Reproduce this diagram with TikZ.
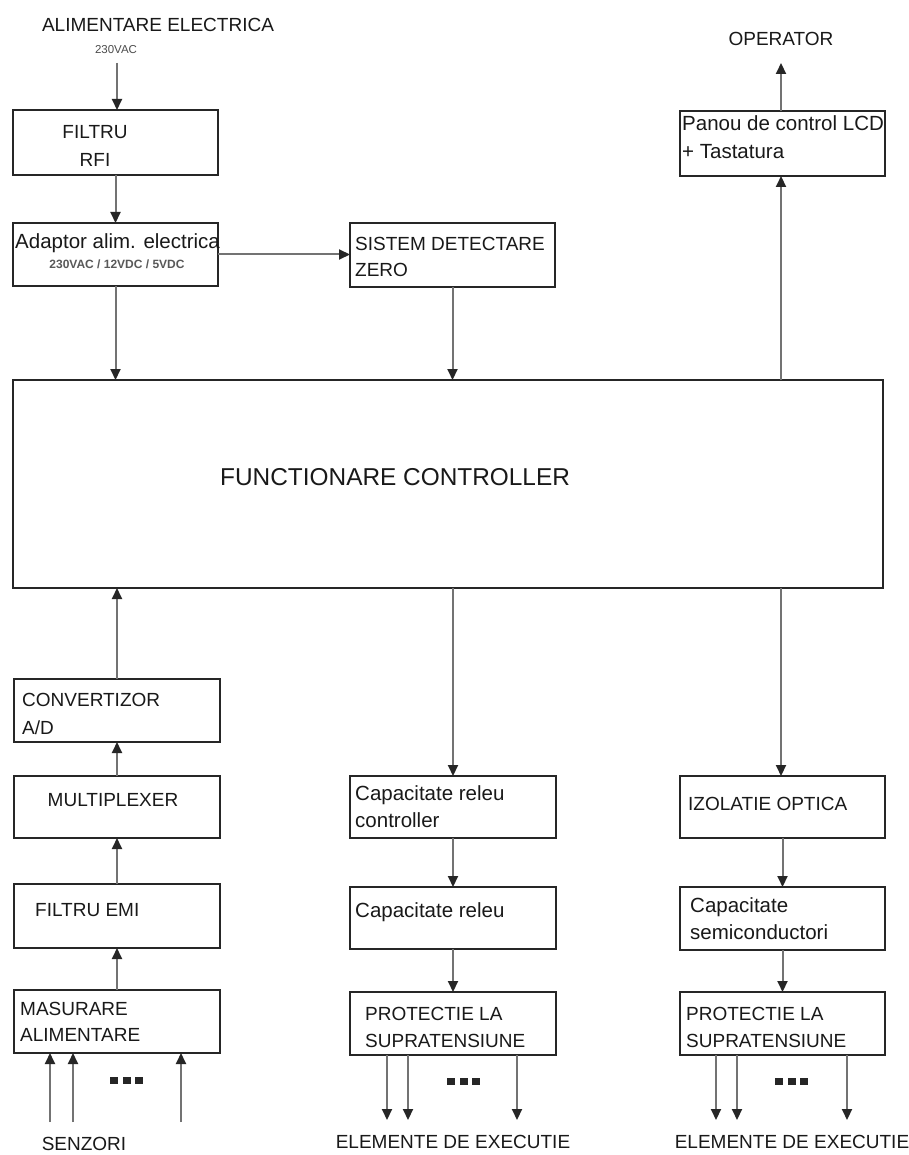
\documentclass[tikz,border=0pt]{standalone}
\usepackage{fontspec}
\setmainfont{Liberation Sans}
\usetikzlibrary{arrows.meta,fit}
\begin{document}
\begin{tikzpicture}[x=1pt,y=-1pt,
  box/.style={draw=black!85, line width=1.8pt, inner sep=0pt, outer sep=0pt},
  conn/.style={draw=black!55, line width=2pt, -{Triangle[length=11pt,width=10pt,color=black!85]}},
  lab/.style={inner sep=0pt, font=\fontsize{19}{27}\selectfont, text=black!90},
  labl/.style={inner sep=0pt, font=\fontsize{20.5}{27}\selectfont, text=black!90},
  dot/.style={fill=black!85}
]
\useasboundingbox[fill=white] (0,0) rectangle (909,1155);

% boxes
\node[box, fit={(13,110) (218,175)}] (filtru) {};
\node[box, fit={(13,223) (218,286)}] (adaptor) {};
\node[box, fit={(350,223) (555,287)}] (sistem) {};
\node[box, fit={(13,380) (883,588)}] (main) {};
\node[box, fit={(680,111) (885,176)}] (panou) {};
\node[box, fit={(14,679) (220,742)}] (conv) {};
\node[box, fit={(14,776) (220,838)}] (mux) {};
\node[box, fit={(14,884) (220,948)}] (emi) {};
\node[box, fit={(14,990) (220,1053)}] (mas) {};
\node[box, fit={(350,776) (556,838)}] (caprc) {};
\node[box, fit={(350,887) (556,949)}] (capr) {};
\node[box, fit={(350,992) (556,1055)}] (protA) {};
\node[box, fit={(680,776) (885,838)}] (izol) {};
\node[box, fit={(680,887) (885,950)}] (capsc) {};
\node[box, fit={(680,992) (885,1055)}] (protB) {};

% texts
\node[lab, anchor=north] (talim) at (158,18) {ALIMENTARE ELECTRICA};
\node[inner sep=0pt, anchor=north, font=\fontsize{11.5}{13}\selectfont, text=black!70] (t230) at (116,45) {230VAC};
\node[lab, anchor=north, align=center, font=\fontsize{19}{28}\selectfont] (tfiltru) at (95,125) {FILTRU\\RFI};
\node[labl, anchor=north west] (tadapt) at (15,233) {Adaptor alim. electrica};
\node[inner sep=0pt, anchor=north, font=\bfseries\fontsize{12}{14}\selectfont, text=black!65] (tvolt) at (117,260) {230VAC / 12VDC / 5VDC};
\node[lab, anchor=north west, align=left, font=\fontsize{19}{26}\selectfont] (tsistem) at (355,237) {SISTEM DETECTARE\\ZERO};
\node[inner sep=0pt, anchor=north west, font=\fontsize{24.4}{30}\selectfont, text=black!90] (tmain) at (220,468) {FUNCTIONARE CONTROLLER};
\node[lab, anchor=north] (toper) at (781,32) {OPERATOR};
\node[labl, anchor=north west, align=left, font=\fontsize{20.5}{28.5}\selectfont] (tpanou) at (682,115) {Panou de control LCD\\+ Tastatura};
\node[lab, anchor=north west, align=left, font=\fontsize{19}{28}\selectfont] (tconv) at (22,693) {CONVERTIZOR\\A/D};
\node[lab, anchor=north] (tmux) at (113,793) {MULTIPLEXER};
\node[lab, anchor=north west] (temi) at (35,903) {FILTRU EMI};
\node[lab, anchor=north west, align=left, font=\fontsize{19}{26}\selectfont] (tmas) at (20,1002) {MASURARE\\ALIMENTARE};
\node[lab, anchor=north] (tsenz) at (84,1137) {SENZORI};
\node[labl, anchor=north west, align=left] (tcaprc) at (355,785) {Capacitate releu\\controller};
\node[labl, anchor=north west] (tcapr) at (355,902) {Capacitate releu};
\node[lab, anchor=north west, align=left] (tprotA) at (365,1007) {PROTECTIE LA\\SUPRATENSIUNE};
\node[lab, anchor=north] (telA) at (453,1135) {ELEMENTE DE EXECUTIE};
\node[lab, anchor=north west] (tizol) at (688,797) {IZOLATIE OPTICA};
\node[labl, anchor=north west, align=left] (tcapsc) at (690,897) {Capacitate\\semiconductori};
\node[lab, anchor=north west, align=left] (tprotB) at (686,1007) {PROTECTIE LA\\SUPRATENSIUNE};
\node[lab, anchor=north] (telB) at (792,1135) {ELEMENTE DE EXECUTIE};

% free ends
\coordinate (alimin) at (117,63);
\coordinate (opout) at (781,63);
\coordinate (s1) at (50,1122);
\coordinate (s2) at (73,1122);
\coordinate (s3) at (181,1122);
\coordinate (a1) at (387,1120);
\coordinate (a2) at (408,1120);
\coordinate (a3) at (517,1120);
\coordinate (b1) at (716,1120);
\coordinate (b2) at (737,1120);
\coordinate (b3) at (847,1120);

% connectors
\draw[conn] (alimin) -- (alimin |- filtru.north);
\draw[conn] (filtru.south) -- (adaptor.north);
\draw[conn] (adaptor.east) -- (adaptor.east -| sistem.west);
\draw[conn] (adaptor.south) -- (adaptor.south |- main.north);
\draw[conn] (sistem.south) -- (sistem.south |- main.north);
\draw[conn] (opout |- main.north) -- (opout |- panou.south);
\draw[conn] (opout |- panou.north) -- (opout);
\draw[conn] (conv.north) -- (conv.north |- main.south);
\draw[conn] (mux.north) -- (conv.south);
\draw[conn] (emi.north) -- (mux.south);
\draw[conn] (mas.north) -- (emi.south);
\draw[conn] (s1) -- (s1 |- mas.south);
\draw[conn] (s2) -- (s2 |- mas.south);
\draw[conn] (s3) -- (s3 |- mas.south);
\draw[conn] (caprc.north |- main.south) -- (caprc.north);
\draw[conn] (caprc.south) -- (capr.north);
\draw[conn] (capr.south) -- (protA.north);
\draw[conn] (a1 |- protA.south) -- (a1);
\draw[conn] (a2 |- protA.south) -- (a2);
\draw[conn] (a3 |- protA.south) -- (a3);
\draw[conn] (opout |- main.south) -- (opout |- izol.north);
\draw[conn] (izol.south) -- (capsc.north);
\draw[conn] (capsc.south) -- (protB.north);
\draw[conn] (b1 |- protB.south) -- (b1);
\draw[conn] (b2 |- protB.south) -- (b2);
\draw[conn] (b3 |- protB.south) -- (b3);

% ellipsis squares
\foreach \x in {110,122.5,135} \fill[dot] (\x,1077) rectangle ++(8,7);
\foreach \x in {447,459.5,472} \fill[dot] (\x,1078) rectangle ++(8,7);
\foreach \x in {775,787.5,800} \fill[dot] (\x,1078) rectangle ++(8,7);
\end{tikzpicture}
\end{document}
